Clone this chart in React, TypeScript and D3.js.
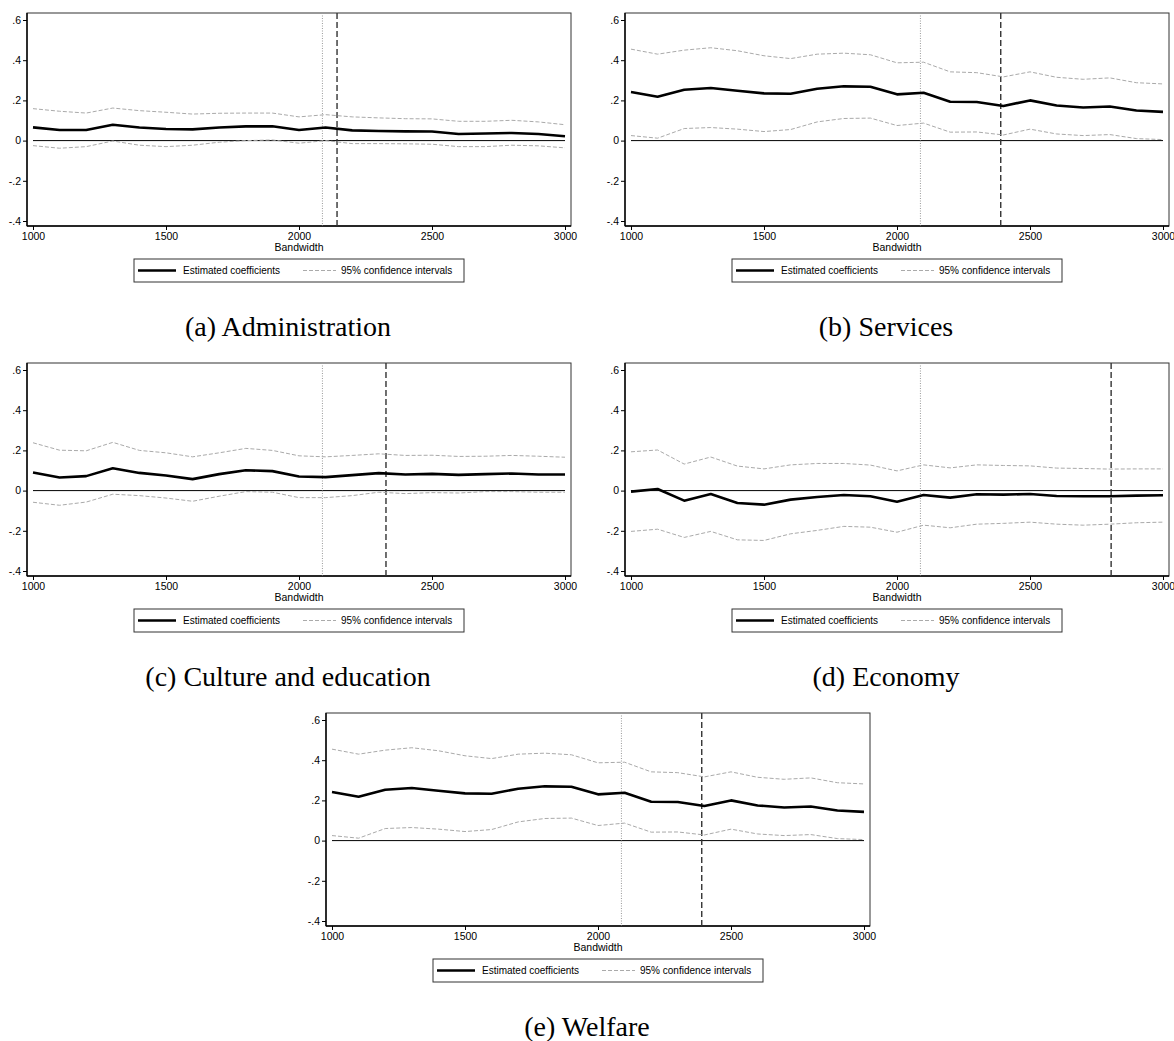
import React, { useRef, useEffect } from 'react';
import * as d3 from 'd3';

const bandwidths = [1000, 1100, 1200, 1300, 1400, 1500, 1600, 1700, 1800, 1900, 2000, 2100, 2200, 2300, 2400, 2500, 2600, 2700, 2800, 2900, 3000];
const yTicks = [-0.4, -0.2, 0, 0.2, 0.4, 0.6];
const yTickLabels = ['-.4', '-.2', '0', '.2', '.4', '.6'];
const xTicks = [1000, 1500, 2000, 2500, 3000];

const adminEst = [0.066, 0.053, 0.053, 0.079, 0.065, 0.058, 0.056, 0.065, 0.071, 0.071, 0.053, 0.065, 0.051, 0.048, 0.046, 0.045, 0.033, 0.035, 0.038, 0.033, 0.022];
const adminHi = [0.159, 0.146, 0.137, 0.162, 0.149, 0.141, 0.132, 0.136, 0.137, 0.137, 0.118, 0.129, 0.118, 0.113, 0.109, 0.108, 0.096, 0.096, 0.101, 0.093, 0.079];
const adminLo = [-0.025, -0.038, -0.03, -0.002, -0.023, -0.03, -0.023, -0.008, 0.0, 0.003, -0.013, 0.0, -0.015, -0.015, -0.016, -0.018, -0.03, -0.03, -0.023, -0.026, -0.036];

const servicesEst = [0.242, 0.218, 0.253, 0.262, 0.248, 0.235, 0.233, 0.258, 0.27, 0.268, 0.23, 0.238, 0.193, 0.192, 0.172, 0.2, 0.175, 0.165, 0.17, 0.15, 0.143];
const servicesHi = [0.455, 0.43, 0.45, 0.462, 0.447, 0.422, 0.408, 0.43, 0.435, 0.427, 0.387, 0.39, 0.342, 0.338, 0.317, 0.342, 0.315, 0.305, 0.312, 0.288, 0.282];
const servicesLo = [0.025, 0.012, 0.06, 0.065, 0.057, 0.045, 0.055, 0.093, 0.11, 0.112, 0.075, 0.087, 0.042, 0.043, 0.028, 0.057, 0.033, 0.025, 0.03, 0.01, 0.005];

const cultureEst = [0.09, 0.065, 0.072, 0.111, 0.088, 0.075, 0.057, 0.082, 0.101, 0.097, 0.07, 0.067, 0.077, 0.087, 0.08, 0.083, 0.078, 0.082, 0.085, 0.08, 0.08];
const cultureHi = [0.238, 0.201, 0.198, 0.24, 0.2, 0.188, 0.168, 0.188, 0.21, 0.2, 0.173, 0.168, 0.175, 0.183, 0.175, 0.176, 0.17, 0.171, 0.175, 0.171, 0.166];
const cultureLo = [-0.058, -0.073, -0.057, -0.018, -0.025, -0.037, -0.053, -0.028, -0.005, -0.008, -0.035, -0.035, -0.025, -0.008, -0.015, -0.01, -0.012, -0.005, -0.005, -0.008, -0.008];

const economyEst = [-0.005, 0.008, -0.05, -0.017, -0.062, -0.07, -0.045, -0.032, -0.022, -0.028, -0.055, -0.022, -0.035, -0.018, -0.02, -0.017, -0.027, -0.028, -0.028, -0.025, -0.023];
const economyHi = [0.193, 0.202, 0.132, 0.167, 0.122, 0.108, 0.128, 0.135, 0.135, 0.127, 0.098, 0.128, 0.113, 0.128, 0.125, 0.123, 0.112, 0.11, 0.107, 0.108, 0.108];
const economyLo = [-0.203, -0.192, -0.233, -0.203, -0.245, -0.248, -0.215, -0.198, -0.178, -0.182, -0.207, -0.172, -0.185, -0.167, -0.163, -0.157, -0.167, -0.172, -0.167, -0.16, -0.157];

const welfareEst = [0.242, 0.218, 0.253, 0.262, 0.248, 0.235, 0.233, 0.258, 0.27, 0.268, 0.23, 0.238, 0.193, 0.192, 0.172, 0.2, 0.175, 0.165, 0.17, 0.15, 0.143];
const welfareHi = [0.455, 0.43, 0.45, 0.462, 0.447, 0.422, 0.408, 0.43, 0.435, 0.427, 0.387, 0.39, 0.342, 0.338, 0.317, 0.342, 0.315, 0.305, 0.312, 0.288, 0.282];
const welfareLo = [0.025, 0.012, 0.06, 0.065, 0.057, 0.045, 0.055, 0.093, 0.11, 0.112, 0.075, 0.087, 0.042, 0.043, 0.028, 0.057, 0.033, 0.025, 0.03, 0.01, 0.005];

// dotted reference bandwidth (same in every panel) and the optimal one per panel (dashed)
const dottedBandwidth = 2088;
const optimalBandwidths = [2143, 2390, 2327, 2805, 2390];
const captions = ['(a) Administration', '(b) Services', '(c) Culture and education', '(d) Economy', '(e) Welfare'];

const panels = [
  { est: adminEst, lo: adminLo, hi: adminHi, left: 27, top: 13 },
  { est: servicesEst, lo: servicesLo, hi: servicesHi, left: 625, top: 13 },
  { est: cultureEst, lo: cultureLo, hi: cultureHi, left: 27, top: 363 },
  { est: economyEst, lo: economyLo, hi: economyHi, left: 625, top: 363 },
  { est: welfareEst, lo: welfareLo, hi: welfareHi, left: 326, top: 713 },
];

const App = () => {
  const svgRef = useRef<SVGSVGElement>(null);

  useEffect(() => {
    const root = d3.select(svgRef.current);
    root.selectAll('*').remove();
    const sans = 'Liberation Sans, Arial, sans-serif';
    const width = 544;
    const height = 213;

    panels.forEach((p, i) => {
      const g = root.append('g').attr('transform', `translate(${p.left},${p.top})`);

      const x = d3.scaleLinear().domain([1000, 3000]).range([6, width - 6]);
      const y = d3.scaleLinear().domain([-0.4, 0.6]).range([height - 5, 7]);

      // frame
      g.append('rect')
        .attr('x', 0).attr('y', 0).attr('width', width).attr('height', height)
        .attr('fill', 'none').attr('stroke', '#333').attr('stroke-width', 1);
      g.append('line').attr('x1', 0).attr('x2', 0).attr('y1', 0).attr('y2', height)
        .attr('stroke', '#000').attr('stroke-width', 1.4);
      g.append('line').attr('x1', 0).attr('x2', width).attr('y1', height).attr('y2', height)
        .attr('stroke', '#000').attr('stroke-width', 1.4);

      // y axis
      const yAxis = d3.axisLeft(y).tickValues(yTicks).tickSize(4).tickPadding(2)
        .tickFormat((_, k) => yTickLabels[k]);
      const ya = g.append('g').call(yAxis);
      ya.select('.domain').remove();
      ya.selectAll('line').attr('stroke', '#000');
      ya.selectAll('text').attr('font-family', sans).attr('font-size', '10.5px').attr('fill', '#000');

      // x axis
      const xAxis = d3.axisBottom(x).tickValues(xTicks).tickSize(4).tickPadding(2.5)
        .tickFormat(d3.format('d'));
      const xa = g.append('g').attr('transform', `translate(0,${height})`).call(xAxis);
      xa.select('.domain').remove();
      xa.selectAll('line').attr('stroke', '#000');
      xa.selectAll('text').attr('font-family', sans).attr('font-size', '10.5px').attr('fill', '#000');

      g.append('text')
        .attr('x', width / 2).attr('y', height + 25)
        .attr('text-anchor', 'middle')
        .attr('font-family', sans).attr('font-size', '10.5px')
        .text('Bandwidth');

      // zero line
      g.append('line')
        .attr('x1', x(1000)).attr('x2', x(3000)).attr('y1', y(0)).attr('y2', y(0))
        .attr('stroke', '#000').attr('stroke-width', 1);

      // reference lines
      g.append('line')
        .attr('x1', x(dottedBandwidth)).attr('x2', x(dottedBandwidth)).attr('y1', 0).attr('y2', height)
        .attr('stroke', '#999').attr('stroke-width', 1).attr('stroke-dasharray', '1,1.5');
      g.append('line')
        .attr('x1', x(optimalBandwidths[i])).attr('x2', x(optimalBandwidths[i])).attr('y1', 0).attr('y2', height)
        .attr('stroke', '#333').attr('stroke-width', 1.4).attr('stroke-dasharray', '6,3');

      const line = d3.line<number>()
        .x((_, k) => x(bandwidths[k]))
        .y((d) => y(d));

      [p.hi, p.lo].forEach((s) => {
        g.append('path')
          .datum(s)
          .attr('fill', 'none')
          .attr('stroke', '#aaa')
          .attr('stroke-width', 1)
          .attr('stroke-dasharray', '4,2')
          .attr('d', line);
      });

      g.append('path')
        .datum(p.est)
        .attr('fill', 'none')
        .attr('stroke', '#000')
        .attr('stroke-width', 2.6)
        .attr('stroke-linejoin', 'round')
        .attr('d', line);

      // legend
      const lw = 330;
      const lg = g.append('g').attr('transform', `translate(${width / 2 - lw / 2},${height + 33})`);
      lg.append('rect').attr('width', lw).attr('height', 23)
        .attr('fill', '#fff').attr('stroke', '#333').attr('stroke-width', 1);
      lg.append('line').attr('x1', 4).attr('x2', 42).attr('y1', 11.5).attr('y2', 11.5)
        .attr('stroke', '#000').attr('stroke-width', 2.6);
      lg.append('text').attr('x', 49).attr('y', 11.5).attr('dy', '0.35em')
        .attr('font-family', sans).attr('font-size', '10px')
        .text('Estimated coefficients');
      lg.append('line').attr('x1', 169).attr('x2', 202).attr('y1', 11.5).attr('y2', 11.5)
        .attr('stroke', '#aaa').attr('stroke-width', 1).attr('stroke-dasharray', '4,2');
      lg.append('text').attr('x', 207).attr('y', 11.5).attr('dy', '0.35em')
        .attr('font-family', sans).attr('font-size', '10px')
        .text('95% confidence intervals');

      // caption
      g.append('text')
        .attr('x', width / 2 - 11).attr('y', 323)
        .attr('text-anchor', 'middle')
        .attr('font-family', 'Liberation Serif, Times New Roman, serif')
        .attr('font-size', '28px')
        .text(captions[i]);
    });
  }, []);

  return (
    <svg
      ref={svgRef}
      width={1174}
      height={1041}
      style={{ position: 'absolute', left: 0, top: 0, background: '#fff' }}
    />
  );
};

export default App;
